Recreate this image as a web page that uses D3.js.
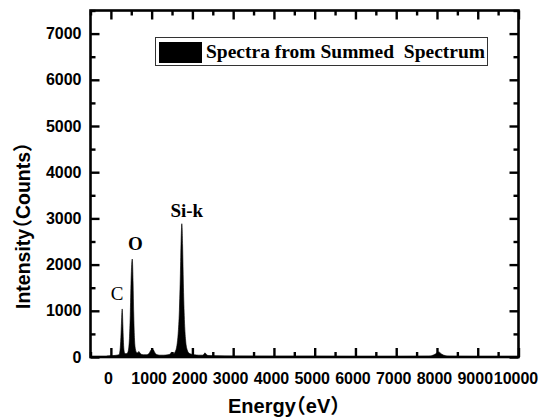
<!DOCTYPE html>
<html><head><meta charset="utf-8">
<script src="https://cdn.jsdelivr.net/npm/d3@7"></script>
<style>
html,body{margin:0;padding:0;background:#fff;}
svg{display:block;}
.halt{font-feature-settings:"halt" 1;}
</style></head>
<body>
<svg id="chart" width="542" height="418"></svg>
<script>
// ---- data ----
const energy = [-100, 60, 150, 200, 230, 250, 262, 272, 277, 284, 294, 306, 320, 340, 370, 400, 430, 455, 475, 495, 510, 520, 525, 532, 545, 560, 578, 600, 630, 660, 685, 710, 740, 800, 870, 930, 970, 1000, 1040, 1070, 1110, 1200, 1300, 1400, 1450, 1480, 1500, 1530, 1580, 1620, 1650, 1680, 1705, 1722, 1733, 1740, 1748, 1760, 1778, 1800, 1830, 1870, 1920, 1980, 2050, 2150, 2250, 2290, 2310, 2335, 2400, 2600, 3000, 4000, 5000, 6000, 7000, 7800, 7950, 8040, 8120, 8300, 9000, 10000];
const counts = [20, 30, 40, 50, 200, 520, 800, 1000, 1040, 960, 700, 380, 160, 80, 70, 80, 150, 400, 900, 1650, 2000, 2110, 2120, 2030, 1600, 950, 420, 180, 100, 90, 120, 90, 60, 50, 50, 70, 130, 160, 155, 110, 60, 40, 40, 50, 60, 100, 90, 70, 120, 250, 500, 1000, 1800, 2500, 2800, 2885, 2800, 2400, 1600, 900, 400, 160, 80, 60, 50, 40, 40, 70, 90, 60, 30, 25, 20, 15, 15, 10, 10, 15, 60, 110, 60, 15, 10, 10];
const xTicks = [0, 1000, 2000, 3000, 4000, 5000, 6000, 7000, 8000, 9000, 10000];
const yTicks = [0, 1000, 2000, 3000, 4000, 5000, 6000, 7000];
const xDomain = [-500, 10000];
const yDomain = [0, 7500];
const peakNames = ["C", "O", "Si-k"];
const peakEnergy = [277, 525, 1740];
const peakCounts = [1040, 2120, 2885];
const peakBold = [false, true, true];
const legendText = "Spectra from Summed\u00a0\u00a0Spectrum";
const xTitleParts = ["Energy", "\uFF08", "eV\uFF09"];
const yTitleParts = ["Intensity", "\uFF08", "Counts\uFF09"];

// ---- layout ----
const L = 90.5, R = 518.5, T = 10.5, B = 357;
const labelShift = [[-5, -9], [3, -9.5], [5, -7]]; // pixel offsets of peak labels
const svg = d3.select("#chart");
const x = d3.scaleLinear().domain(xDomain).range([L, R]);
const y = d3.scaleLinear().domain(yDomain).range([B, T]);

svg.append("defs").append("clipPath").attr("id", "clip")
  .append("rect").attr("x", L).attr("y", T).attr("width", R - L).attr("height", B - T);

// spectrum area
const pts = energy.map((e, i) => [e, counts[i]]);
const area = d3.area().x(d => x(d[0])).y0(y(0)).y1(d => y(d[1])).curve(d3.curveMonotoneX);
svg.append("path").datum(pts).attr("d", area).attr("fill", "#000")
  .attr("stroke", "#000").attr("stroke-width", 0.6).attr("clip-path", "url(#clip)");

const xMinor = d3.range(xDomain[0], xDomain[1] + 1, 500).filter(v => v % 1000 !== 0);
const yMinor = d3.range(500, yDomain[1] + 1, 1000);

const tickFont = "'Liberation Sans', Arial, sans-serif";
function styleAxis(g) {
  g.select(".domain").remove();
  g.selectAll("line").attr("stroke", "#000").attr("stroke-width", 2.4);
}
const MAJ = -9, MIN = -5;

// bottom axis (ticks inward)
const gxB = svg.append("g").attr("transform", `translate(0,${B})`)
  .call(d3.axisBottom(x).tickValues(xTicks).tickSizeInner(MAJ).tickSizeOuter(0).tickPadding(16)
    .tickFormat(d3.format("d")));
styleAxis(gxB);
gxB.selectAll("text").attr("font-family", tickFont).attr("font-weight", "bold")
  .attr("font-size", 16).attr("fill", "#000").attr("dx", -3);
svg.append("g").attr("transform", `translate(0,${B})`)
  .call(d3.axisBottom(x).tickValues(xMinor).tickSizeInner(MIN).tickSizeOuter(0).tickFormat(""))
  .call(styleAxis);

// top axis mirror ticks
svg.append("g").attr("transform", `translate(0,${T})`)
  .call(d3.axisTop(x).tickValues(xTicks).tickSizeInner(MAJ).tickSizeOuter(0).tickFormat(""))
  .call(styleAxis);
svg.append("g").attr("transform", `translate(0,${T})`)
  .call(d3.axisTop(x).tickValues(xMinor).tickSizeInner(MIN).tickSizeOuter(0).tickFormat(""))
  .call(styleAxis);

// left axis
const gyL = svg.append("g").attr("transform", `translate(${L},0)`)
  .call(d3.axisLeft(y).tickValues(yTicks).tickSizeInner(MAJ).tickSizeOuter(0).tickPadding(9)
    .tickFormat(d3.format("d")));
styleAxis(gyL);
gyL.selectAll("text").attr("font-family", tickFont).attr("font-weight", "bold")
  .attr("font-size", 16).attr("fill", "#000");
svg.append("g").attr("transform", `translate(${L},0)`)
  .call(d3.axisLeft(y).tickValues(yMinor).tickSizeInner(MIN).tickSizeOuter(0).tickFormat(""))
  .call(styleAxis);

// right axis mirror ticks
svg.append("g").attr("transform", `translate(${R},0)`)
  .call(d3.axisRight(y).tickValues(yTicks).tickSizeInner(MAJ).tickSizeOuter(0).tickFormat(""))
  .call(styleAxis);
svg.append("g").attr("transform", `translate(${R},0)`)
  .call(d3.axisRight(y).tickValues(yMinor).tickSizeInner(MIN).tickSizeOuter(0).tickFormat(""))
  .call(styleAxis);

// frame
svg.append("rect").attr("x", L).attr("y", T).attr("width", R - L).attr("height", B - T)
  .attr("fill", "none").attr("stroke", "#000").attr("stroke-width", 2.6);

// peak labels
const serif = "'Liberation Serif', 'Times New Roman', serif";
svg.selectAll("text.peak").data(peakNames).join("text").attr("class", "peak")
  .attr("x", (d, i) => x(peakEnergy[i]) + labelShift[i][0])
  .attr("y", (d, i) => y(peakCounts[i]) + labelShift[i][1])
  .attr("text-anchor", "middle")
  .attr("font-family", serif).attr("font-size", 19)
  .attr("font-weight", (d, i) => peakBold[i] ? "bold" : "normal")
  .text(d => d);

// legend
const lg = svg.append("g");
lg.append("rect").attr("x", 155.5).attr("y", 37.5).attr("width", 332).attr("height", 28)
  .attr("fill", "#fff").attr("stroke", "#333").attr("stroke-width", 1);
lg.append("rect").attr("x", 159).attr("y", 42).attr("width", 43).attr("height", 21).attr("fill", "#000");
lg.append("text").attr("x", 206).attr("y", 58).attr("font-family", serif).attr("font-weight", "bold")
  .attr("font-size", 19.5).text(legendText);

// axis titles
const titleFont = "'Liberation Sans', Arial, 'Noto Sans CJK SC', sans-serif";
function addTitle(t, parts) {
  t.append("tspan").text(parts[0]);
  t.append("tspan").attr("class", "halt").text(parts[1]);
  t.append("tspan").text(parts[2]);
}
const xt = svg.append("text").attr("x", 228).attr("y", 413).attr("font-family", titleFont)
  .attr("font-weight", "bold").attr("font-size", 20);
addTitle(xt, xTitleParts);
const yt = svg.append("text").attr("transform", "translate(30,309) rotate(-90)")
  .attr("font-family", titleFont).attr("font-weight", "bold").attr("font-size", 19.5);
addTitle(yt, yTitleParts);
</script>
</body></html>
